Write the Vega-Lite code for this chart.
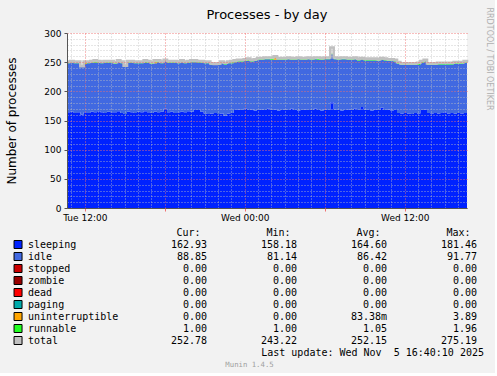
{
"$schema": "https://vega.github.io/schema/vega-lite/v6.json",
"background": "#f2f2f2",
"padding": {"left": 5, "top": 6, "right": 3, "bottom": 5},
"bounds": "flush",
"spacing": 24.5,
"resolve": {"scale": {"color": "independent"}},
"config": {"view": {"stroke": null}, "font": "DejaVu Sans", "axis": {"labelFont": "DejaVu Sans", "titleFont": "DejaVu Sans"}},
"vconcat": [
{
"title": {"text": "Processes - by day", "fontSize": 13, "font": "DejaVu Sans", "fontWeight": "normal", "color": "#000000", "frame": "group", "anchor": "middle", "baseline": "alphabetic", "offset": -25},
"width": 400, "height": 175,
"view": {"fill": "#ffffff", "stroke": null},
"data": {"values": [
{"t":"2025-11-04T10:40:00Z","sleeping":164,"idle":84,"runnable":1,"uninterruptible":0,"total":251},
{"t":"2025-11-04T10:55:00Z","sleeping":165,"idle":84,"runnable":1,"uninterruptible":0,"total":252},
{"t":"2025-11-04T11:10:00Z","sleeping":163,"idle":85,"runnable":1,"uninterruptible":0,"total":251},
{"t":"2025-11-04T11:25:00Z","sleeping":164,"idle":84,"runnable":1,"uninterruptible":0,"total":251},
{"t":"2025-11-04T11:40:00Z","sleeping":160.5,"idle":81.2,"runnable":1,"uninterruptible":0,"total":243.22},
{"t":"2025-11-04T11:55:00Z","sleeping":164,"idle":83,"runnable":1,"uninterruptible":1,"total":251},
{"t":"2025-11-04T12:10:00Z","sleeping":163,"idle":85,"runnable":1,"uninterruptible":0,"total":251},
{"t":"2025-11-04T12:25:00Z","sleeping":165,"idle":84,"runnable":1,"uninterruptible":0,"total":252},
{"t":"2025-11-04T12:40:00Z","sleeping":164,"idle":85,"runnable":2,"uninterruptible":0,"total":253},
{"t":"2025-11-04T12:55:00Z","sleeping":166,"idle":83,"runnable":1,"uninterruptible":0,"total":252},
{"t":"2025-11-04T13:10:00Z","sleeping":164,"idle":84,"runnable":1,"uninterruptible":0,"total":251},
{"t":"2025-11-04T13:25:00Z","sleeping":163,"idle":86,"runnable":1,"uninterruptible":0,"total":252},
{"t":"2025-11-04T13:40:00Z","sleeping":165,"idle":84,"runnable":1,"uninterruptible":0,"total":252},
{"t":"2025-11-04T13:55:00Z","sleeping":164,"idle":85,"runnable":1,"uninterruptible":0,"total":252},
{"t":"2025-11-04T14:10:00Z","sleeping":164,"idle":83,"runnable":1,"uninterruptible":0,"total":250},
{"t":"2025-11-04T14:25:00Z","sleeping":166,"idle":84,"runnable":1,"uninterruptible":0,"total":253},
{"t":"2025-11-04T14:40:00Z","sleeping":163,"idle":85,"runnable":1,"uninterruptible":0,"total":251},
{"t":"2025-11-04T14:55:00Z","sleeping":161,"idle":82,"runnable":1,"uninterruptible":0,"total":244},
{"t":"2025-11-04T15:10:00Z","sleeping":165,"idle":84,"runnable":1,"uninterruptible":0,"total":252},
{"t":"2025-11-04T15:25:00Z","sleeping":164,"idle":85,"runnable":1,"uninterruptible":0,"total":252},
{"t":"2025-11-04T15:40:00Z","sleeping":163,"idle":85,"runnable":1,"uninterruptible":0,"total":251},
{"t":"2025-11-04T15:55:00Z","sleeping":165,"idle":83,"runnable":1,"uninterruptible":0,"total":251},
{"t":"2025-11-04T16:10:00Z","sleeping":164,"idle":84,"runnable":1,"uninterruptible":0,"total":251},
{"t":"2025-11-04T16:25:00Z","sleeping":166,"idle":83,"runnable":2,"uninterruptible":0,"total":253},
{"t":"2025-11-04T16:40:00Z","sleeping":164,"idle":85,"runnable":1,"uninterruptible":0,"total":252},
{"t":"2025-11-04T16:55:00Z","sleeping":163,"idle":84,"runnable":1,"uninterruptible":0,"total":250},
{"t":"2025-11-04T17:10:00Z","sleeping":165,"idle":83,"runnable":1,"uninterruptible":2,"total":253},
{"t":"2025-11-04T17:25:00Z","sleeping":164,"idle":86,"runnable":1,"uninterruptible":0,"total":253},
{"t":"2025-11-04T17:40:00Z","sleeping":165,"idle":83,"runnable":1,"uninterruptible":0,"total":251},
{"t":"2025-11-04T17:55:00Z","sleeping":170,"idle":81.5,"runnable":1,"uninterruptible":0,"total":254},
{"t":"2025-11-04T18:10:00Z","sleeping":164,"idle":85,"runnable":1,"uninterruptible":0,"total":252},
{"t":"2025-11-04T18:25:00Z","sleeping":165,"idle":84,"runnable":1,"uninterruptible":0,"total":252},
{"t":"2025-11-04T18:40:00Z","sleeping":163,"idle":86,"runnable":1,"uninterruptible":0,"total":252},
{"t":"2025-11-04T18:55:00Z","sleeping":164,"idle":84,"runnable":1,"uninterruptible":0,"total":251},
{"t":"2025-11-04T19:10:00Z","sleeping":165,"idle":85,"runnable":1,"uninterruptible":0,"total":253},
{"t":"2025-11-04T19:25:00Z","sleeping":164,"idle":84,"runnable":1,"uninterruptible":0,"total":251},
{"t":"2025-11-04T19:40:00Z","sleeping":166,"idle":83,"runnable":1,"uninterruptible":0,"total":252},
{"t":"2025-11-04T19:55:00Z","sleeping":165,"idle":85,"runnable":1,"uninterruptible":0,"total":253},
{"t":"2025-11-04T20:10:00Z","sleeping":168,"idle":82,"runnable":1,"uninterruptible":0,"total":253},
{"t":"2025-11-04T20:25:00Z","sleeping":168,"idle":81.5,"runnable":1,"uninterruptible":0,"total":252},
{"t":"2025-11-04T20:40:00Z","sleeping":165,"idle":84,"runnable":1,"uninterruptible":0,"total":252},
{"t":"2025-11-04T20:55:00Z","sleeping":162,"idle":86,"runnable":1,"uninterruptible":0,"total":251},
{"t":"2025-11-04T21:10:00Z","sleeping":161,"idle":87,"runnable":1,"uninterruptible":0,"total":251},
{"t":"2025-11-04T21:25:00Z","sleeping":162,"idle":83,"runnable":1,"uninterruptible":0,"total":248},
{"t":"2025-11-04T21:40:00Z","sleeping":163,"idle":82,"runnable":1,"uninterruptible":0,"total":247},
{"t":"2025-11-04T21:55:00Z","sleeping":161,"idle":84,"runnable":1,"uninterruptible":0,"total":248},
{"t":"2025-11-04T22:10:00Z","sleeping":162,"idle":86,"runnable":1,"uninterruptible":0,"total":251},
{"t":"2025-11-04T22:25:00Z","sleeping":158.18,"idle":88,"runnable":1,"uninterruptible":0,"total":249},
{"t":"2025-11-04T22:40:00Z","sleeping":162,"idle":86,"runnable":1,"uninterruptible":0,"total":251},
{"t":"2025-11-04T22:55:00Z","sleeping":163,"idle":85,"runnable":2,"uninterruptible":0,"total":252},
{"t":"2025-11-04T23:10:00Z","sleeping":168,"idle":82,"runnable":1,"uninterruptible":0,"total":253},
{"t":"2025-11-04T23:25:00Z","sleeping":169,"idle":82,"runnable":1,"uninterruptible":0,"total":254},
{"t":"2025-11-04T23:40:00Z","sleeping":168,"idle":83,"runnable":1,"uninterruptible":0,"total":254},
{"t":"2025-11-04T23:55:00Z","sleeping":170,"idle":82,"runnable":1,"uninterruptible":0,"total":255},
{"t":"2025-11-05T00:10:00Z","sleeping":168,"idle":84,"runnable":1,"uninterruptible":1,"total":256},
{"t":"2025-11-05T00:25:00Z","sleeping":169,"idle":82,"runnable":1,"uninterruptible":0,"total":254},
{"t":"2025-11-05T00:40:00Z","sleeping":167,"idle":85,"runnable":1,"uninterruptible":0,"total":255},
{"t":"2025-11-05T00:55:00Z","sleeping":168,"idle":86,"runnable":1,"uninterruptible":0,"total":257},
{"t":"2025-11-05T01:10:00Z","sleeping":169,"idle":85,"runnable":1,"uninterruptible":0,"total":257},
{"t":"2025-11-05T01:25:00Z","sleeping":168,"idle":87,"runnable":1,"uninterruptible":0,"total":258},
{"t":"2025-11-05T01:40:00Z","sleeping":170,"idle":85,"runnable":1,"uninterruptible":0,"total":258},
{"t":"2025-11-05T01:55:00Z","sleeping":168,"idle":86,"runnable":2,"uninterruptible":0,"total":258},
{"t":"2025-11-05T02:10:00Z","sleeping":169,"idle":85,"runnable":1,"uninterruptible":3.89,"total":260},
{"t":"2025-11-05T02:25:00Z","sleeping":167,"idle":87,"runnable":1,"uninterruptible":0,"total":257},
{"t":"2025-11-05T02:40:00Z","sleeping":168,"idle":86,"runnable":1,"uninterruptible":0,"total":257},
{"t":"2025-11-05T02:55:00Z","sleeping":169,"idle":85,"runnable":1,"uninterruptible":0,"total":257},
{"t":"2025-11-05T03:10:00Z","sleeping":168,"idle":87,"runnable":1,"uninterruptible":0,"total":258},
{"t":"2025-11-05T03:25:00Z","sleeping":170,"idle":84,"runnable":1,"uninterruptible":0,"total":257},
{"t":"2025-11-05T03:40:00Z","sleeping":168,"idle":86,"runnable":1,"uninterruptible":0,"total":257},
{"t":"2025-11-05T03:55:00Z","sleeping":167,"idle":88,"runnable":1,"uninterruptible":0,"total":258},
{"t":"2025-11-05T04:10:00Z","sleeping":168,"idle":86,"runnable":1,"uninterruptible":0,"total":257},
{"t":"2025-11-05T04:25:00Z","sleeping":169,"idle":85,"runnable":1,"uninterruptible":0,"total":257},
{"t":"2025-11-05T04:40:00Z","sleeping":168,"idle":87,"runnable":1,"uninterruptible":0,"total":258},
{"t":"2025-11-05T04:55:00Z","sleeping":168,"idle":86,"runnable":1,"uninterruptible":0,"total":257},
{"t":"2025-11-05T05:10:00Z","sleeping":170,"idle":85,"runnable":1,"uninterruptible":0,"total":258},
{"t":"2025-11-05T05:25:00Z","sleeping":168,"idle":86,"runnable":2,"uninterruptible":0,"total":258},
{"t":"2025-11-05T05:40:00Z","sleeping":167,"idle":87,"runnable":1,"uninterruptible":0,"total":257},
{"t":"2025-11-05T05:55:00Z","sleeping":169,"idle":86,"runnable":1,"uninterruptible":0,"total":258},
{"t":"2025-11-05T06:10:00Z","sleeping":168,"idle":87,"runnable":1,"uninterruptible":0,"total":258},
{"t":"2025-11-05T06:25:00Z","sleeping":181.46,"idle":82,"runnable":1,"uninterruptible":0,"total":275.19},
{"t":"2025-11-05T06:40:00Z","sleeping":169,"idle":86,"runnable":1,"uninterruptible":0,"total":258},
{"t":"2025-11-05T06:55:00Z","sleeping":168,"idle":86,"runnable":1,"uninterruptible":0,"total":257},
{"t":"2025-11-05T07:10:00Z","sleeping":167,"idle":88,"runnable":1,"uninterruptible":0,"total":258},
{"t":"2025-11-05T07:25:00Z","sleeping":168,"idle":87,"runnable":1,"uninterruptible":0,"total":258},
{"t":"2025-11-05T07:40:00Z","sleeping":169,"idle":85,"runnable":1,"uninterruptible":0,"total":257},
{"t":"2025-11-05T07:55:00Z","sleeping":168,"idle":86,"runnable":1,"uninterruptible":0,"total":257},
{"t":"2025-11-05T08:10:00Z","sleeping":170,"idle":85,"runnable":1,"uninterruptible":0,"total":258},
{"t":"2025-11-05T08:25:00Z","sleeping":168,"idle":85,"runnable":1,"uninterruptible":0,"total":256},
{"t":"2025-11-05T08:40:00Z","sleeping":173,"idle":81.5,"runnable":1,"uninterruptible":0,"total":257},
{"t":"2025-11-05T08:55:00Z","sleeping":169,"idle":84,"runnable":1,"uninterruptible":0,"total":256},
{"t":"2025-11-05T09:10:00Z","sleeping":168,"idle":85,"runnable":1,"uninterruptible":0,"total":256},
{"t":"2025-11-05T09:25:00Z","sleeping":167,"idle":86,"runnable":1,"uninterruptible":0,"total":256},
{"t":"2025-11-05T09:40:00Z","sleeping":169,"idle":84,"runnable":1,"uninterruptible":0,"total":256},
{"t":"2025-11-05T09:55:00Z","sleeping":168,"idle":84,"runnable":1,"uninterruptible":0,"total":255},
{"t":"2025-11-05T10:10:00Z","sleeping":172,"idle":82,"runnable":1,"uninterruptible":0,"total":257},
{"t":"2025-11-05T10:25:00Z","sleeping":168,"idle":85,"runnable":1,"uninterruptible":0,"total":256},
{"t":"2025-11-05T10:40:00Z","sleeping":169,"idle":83,"runnable":1,"uninterruptible":0,"total":255},
{"t":"2025-11-05T10:55:00Z","sleeping":167,"idle":85,"runnable":1,"uninterruptible":0,"total":255},
{"t":"2025-11-05T11:10:00Z","sleeping":168,"idle":83,"runnable":1,"uninterruptible":0,"total":254},
{"t":"2025-11-05T11:25:00Z","sleeping":163,"idle":84,"runnable":1,"uninterruptible":0,"total":250},
{"t":"2025-11-05T11:40:00Z","sleeping":162,"idle":83,"runnable":1,"uninterruptible":0,"total":248},
{"t":"2025-11-05T11:55:00Z","sleeping":163,"idle":82,"runnable":1,"uninterruptible":0,"total":248},
{"t":"2025-11-05T12:10:00Z","sleeping":162,"idle":83,"runnable":1,"uninterruptible":0,"total":248},
{"t":"2025-11-05T12:25:00Z","sleeping":161,"idle":84,"runnable":1,"uninterruptible":0,"total":248},
{"t":"2025-11-05T12:40:00Z","sleeping":163,"idle":82,"runnable":1,"uninterruptible":0,"total":248},
{"t":"2025-11-05T12:55:00Z","sleeping":162,"idle":83,"runnable":2,"uninterruptible":0,"total":249},
{"t":"2025-11-05T13:10:00Z","sleeping":168,"idle":81.14,"runnable":1,"uninterruptible":0,"total":252},
{"t":"2025-11-05T13:25:00Z","sleeping":169,"idle":82,"runnable":1,"uninterruptible":0,"total":254},
{"t":"2025-11-05T13:40:00Z","sleeping":163,"idle":82,"runnable":1,"uninterruptible":0,"total":248},
{"t":"2025-11-05T13:55:00Z","sleeping":162,"idle":83,"runnable":1,"uninterruptible":0,"total":248},
{"t":"2025-11-05T14:10:00Z","sleeping":163,"idle":82,"runnable":1,"uninterruptible":0,"total":248},
{"t":"2025-11-05T14:25:00Z","sleeping":162,"idle":84,"runnable":1,"uninterruptible":0,"total":249},
{"t":"2025-11-05T14:40:00Z","sleeping":163,"idle":83,"runnable":1,"uninterruptible":0,"total":249},
{"t":"2025-11-05T14:55:00Z","sleeping":164,"idle":82,"runnable":1,"uninterruptible":0,"total":249},
{"t":"2025-11-05T15:10:00Z","sleeping":162,"idle":84,"runnable":1,"uninterruptible":0,"total":249},
{"t":"2025-11-05T15:25:00Z","sleeping":163,"idle":83,"runnable":1,"uninterruptible":0,"total":249},
{"t":"2025-11-05T15:40:00Z","sleeping":162,"idle":85,"runnable":1,"uninterruptible":0,"total":250},
{"t":"2025-11-05T15:55:00Z","sleeping":163,"idle":84,"runnable":1,"uninterruptible":0,"total":250},
{"t":"2025-11-05T16:10:00Z","sleeping":162,"idle":85,"runnable":1,"uninterruptible":0,"total":250},
{"t":"2025-11-05T16:25:00Z","sleeping":163,"idle":86,"runnable":1,"uninterruptible":0,"total":252},
{"t":"2025-11-05T16:40:00Z","sleeping":162.93,"idle":88.85,"runnable":1,"uninterruptible":0,"total":254}
]},
"layer": [
{
"mark": {"type": "point", "opacity": 0},
"encoding": {
"x": {"field": "t", "type": "temporal", "scale": {"type": "utc", "domain": [{"year":2025,"month":11,"date":4,"hours":10,"minutes":40,"utc":true},{"year":2025,"month":11,"date":5,"hours":16,"minutes":40,"utc":true}], "nice": false},
"axis": {"orient": "bottom", "values": [
{"year":2025,"month":11,"date":4,"hours":11,"utc":true},{"year":2025,"month":11,"date":4,"hours":13,"utc":true},{"year":2025,"month":11,"date":4,"hours":14,"utc":true},{"year":2025,"month":11,"date":4,"hours":15,"utc":true},{"year":2025,"month":11,"date":4,"hours":16,"utc":true},{"year":2025,"month":11,"date":4,"hours":17,"utc":true},{"year":2025,"month":11,"date":4,"hours":19,"utc":true},{"year":2025,"month":11,"date":4,"hours":20,"utc":true},{"year":2025,"month":11,"date":4,"hours":21,"utc":true},{"year":2025,"month":11,"date":4,"hours":22,"utc":true},{"year":2025,"month":11,"date":4,"hours":23,"utc":true},
{"year":2025,"month":11,"date":5,"hours":1,"utc":true},{"year":2025,"month":11,"date":5,"hours":2,"utc":true},{"year":2025,"month":11,"date":5,"hours":3,"utc":true},{"year":2025,"month":11,"date":5,"hours":4,"utc":true},{"year":2025,"month":11,"date":5,"hours":5,"utc":true},{"year":2025,"month":11,"date":5,"hours":7,"utc":true},{"year":2025,"month":11,"date":5,"hours":8,"utc":true},{"year":2025,"month":11,"date":5,"hours":9,"utc":true},{"year":2025,"month":11,"date":5,"hours":10,"utc":true},{"year":2025,"month":11,"date":5,"hours":11,"utc":true},{"year":2025,"month":11,"date":5,"hours":13,"utc":true},{"year":2025,"month":11,"date":5,"hours":14,"utc":true},{"year":2025,"month":11,"date":5,"hours":15,"utc":true},{"year":2025,"month":11,"date":5,"hours":16,"utc":true}],
"grid": true, "gridColor": "#c0c0c0", "gridDash": [1, 2], "gridOpacity": 0.8, "labels": false, "ticks": false, "domain": false, "title": null, "zindex": 1}},
"y": {"field": "total", "type": "quantitative", "scale": {"domain": [0, 300], "nice": false},
"axis": {"orient": "left", "values": [10,20,30,40,60,70,80,90,110,120,130,140,160,170,180,190,210,220,230,240,260,270,280,290], "grid": true, "gridColor": "#c0c0c0", "gridDash": [1, 2], "gridOpacity": 0.8, "labels": false, "ticks": false, "domain": false, "title": null, "zindex": 1}}
}
},
{
"transform": [
{"fold": ["sleeping", "idle", "uninterruptible", "runnable"], "as": ["series", "value"]},
{"lookup": "series", "from": {"data": {"values": [{"series": "sleeping", "rank": 1}, {"series": "idle", "rank": 2}, {"series": "uninterruptible", "rank": 3}, {"series": "runnable", "rank": 4}]}, "key": "series", "fields": ["rank"]}}
],
"mark": {"type": "area", "interpolate": "step-after"},
"encoding": {
"x": {"field": "t", "type": "temporal", "scale": {"type": "utc"},
"axis": {"orient": "bottom", "values": [{"year":2025,"month":11,"date":4,"hours":12,"utc":true},{"year":2025,"month":11,"date":5,"hours":0,"utc":true},{"year":2025,"month":11,"date":5,"hours":12,"utc":true}], "format": "%a %H:%M", "grid": true, "gridColor": "#f07070", "gridDash": [1, 2], "gridOpacity": 0.9, "domainColor": "#555555", "tickColor": "#f07070", "tickSize": 3, "labelFontSize": 9, "labelColor": "#000000", "labelPadding": 2, "labelFlush": false, "labelOverlap": false, "title": null, "zindex": 1}},
"y": {"field": "value", "type": "quantitative", "stack": "zero", "scale": {"domain": [0, 300], "nice": false},
"axis": {"orient": "left", "values": [0, 50, 100, 150, 200, 250, 300], "grid": true, "gridColor": "#f07070", "gridDash": [1, 2], "gridOpacity": 0.9, "domainColor": "#555555", "tickColor": "#555555", "tickSize": 3, "labelFontSize": 9, "labelColor": "#000000", "labelPadding": 3, "title": "Number of processes", "titleFontSize": 12, "titleFontWeight": "normal", "titleColor": "#000000", "titlePadding": 25, "zindex": 1}},
"color": {"field": "series", "type": "nominal", "scale": {"domain": ["sleeping", "idle", "uninterruptible", "runnable"], "range": ["#0022ff", "#4169e1", "#ffa500", "#22ff22"]}, "legend": null},
"order": {"field": "rank", "type": "quantitative", "sort": "ascending"}
}
},
{
"mark": {"type": "line", "interpolate": "step-after", "color": "#c0c0c0", "strokeWidth": 2.6},
"encoding": {
"x": {"field": "t", "type": "temporal", "scale": {"type": "utc"}, "axis": null},
"y": {"field": "total", "type": "quantitative", "axis": null}
}
},
{
"mark": {"type": "point", "opacity": 0},
"encoding": {
"x": {"field": "t", "type": "temporal", "scale": {"type": "utc"},
"axis": {"orient": "bottom", "values": [{"year":2025,"month":11,"date":4,"hours":18,"utc":true},{"year":2025,"month":11,"date":5,"hours":6,"utc":true}], "grid": true, "gridColor": "#f07070", "gridDash": [1, 2], "gridOpacity": 0.9, "labels": false, "ticks": true, "tickColor": "#f07070", "tickSize": 3, "domain": false, "title": null, "zindex": 1}},
"y": {"field": "total", "type": "quantitative", "axis": {"orient": "right", "title": "RRDTOOL / TOBI OETIKER", "labels": false, "ticks": false, "domain": false, "grid": false, "titleAngle": 90, "titleAlign": "left", "titleBaseline": "alphabetic", "titleX": 19, "titleY": -26, "titleFontSize": 8, "titleFontWeight": "normal", "titleColor": "#b0b0b0"}}
}
}
],
"resolve": {"axis": {"x": "independent", "y": "independent"}}
},
{
"width": 410, "height": 132,
"layer": [
{
"data": {"values": [
{"name":"sleeping","cur":"162.93","min":"158.18","avg":"164.60","max":"181.46"},
{"name":"idle","cur":"88.85","min":"81.14","avg":"86.42","max":"91.77"},
{"name":"stopped","cur":"0.00","min":"0.00","avg":"0.00","max":"0.00"},
{"name":"zombie","cur":"0.00","min":"0.00","avg":"0.00","max":"0.00"},
{"name":"dead","cur":"0.00","min":"0.00","avg":"0.00","max":"0.00"},
{"name":"paging","cur":"0.00","min":"0.00","avg":"0.00","max":"0.00"},
{"name":"uninterruptible","cur":"0.00","min":"0.00","avg":"83.38m","max":"3.89"},
{"name":"runnable","cur":"1.00","min":"1.00","avg":"1.05","max":"1.96"},
{"name":"total","cur":"252.78","min":"243.22","avg":"252.15","max":"275.19"}
]},
"layer": [
{
"mark": {"type": "square", "size": 64, "filled": true, "opacity": 1, "stroke": "#000000", "strokeWidth": 1, "xOffset": -99},
"encoding": {
"x": {"datum": "gap", "type": "ordinal", "scale": {"type": "point", "domain": ["gap", "cur", "min", "avg", "max"], "padding": 0.278, "align": 1, "round": false}, "axis": null},
"y": {"field": "name", "type": "ordinal", "scale": {"type": "point", "domain": ["hdr","sleeping","idle","stopped","zombie","dead","paging","uninterruptible","runnable","total","update","munin"], "padding": 0, "round": false}, "axis": null},
"color": {"field": "name", "type": "nominal", "scale": {"domain": ["sleeping","idle","stopped","zombie","dead","paging","uninterruptible","runnable","total"], "range": ["#0022ff","#4169e1","#cc0000","#990000","#ff0000","#00aaaa","#ffa500","#22ff22","#c0c0c0"]}, "legend": null}
}
},
{
"mark": {"type": "text", "align": "left", "baseline": "middle", "font": "DejaVu Sans Mono", "fontSize": 10, "color": "#000000", "dx": -89},
"encoding": {
"x": {"datum": "gap", "type": "ordinal"},
"y": {"field": "name", "type": "ordinal"},
"text": {"field": "name"}
}
},
{
"transform": [{"fold": ["cur", "min", "avg", "max"], "as": ["col", "val"]}],
"mark": {"type": "text", "align": "right", "baseline": "middle", "font": "DejaVu Sans Mono", "fontSize": 10, "color": "#000000"},
"encoding": {
"x": {"field": "col", "type": "ordinal"},
"y": {"field": "name", "type": "ordinal"},
"text": {"field": "val"}
}
}
]
},
{
"data": {"values": [{"col":"cur","h":"Cur:"},{"col":"min","h":"Min:"},{"col":"avg","h":"Avg:"},{"col":"max","h":"Max:"}]},
"mark": {"type": "text", "align": "right", "baseline": "middle", "font": "DejaVu Sans Mono", "fontSize": 10, "color": "#000000", "dx": -6.5},
"encoding": {
"x": {"field": "col", "type": "ordinal"},
"y": {"datum": "hdr", "type": "ordinal"},
"text": {"field": "h"}
}
},
{
"data": {"values": [{"row":"update","txt":"Last update: Wed Nov \u00a05 16:40:10 2025"}]},
"mark": {"type": "text", "align": "right", "baseline": "middle", "font": "DejaVu Sans Mono", "fontSize": 10, "color": "#000000", "dx": 7},
"encoding": {
"x": {"datum": "max", "type": "ordinal"},
"y": {"field": "row", "type": "ordinal"},
"text": {"field": "txt"}
}
},
{
"data": {"values": [{"row":"munin","txt":"Munin 1.4.5"}]},
"mark": {"type": "text", "align": "center", "baseline": "middle", "font": "DejaVu Sans Mono", "fontSize": 7.3, "color": "#a0a0a0", "dx": 42.5},
"encoding": {
"x": {"datum": "cur", "type": "ordinal"},
"y": {"field": "row", "type": "ordinal"},
"text": {"field": "txt"}
}
}
]
}
]
}
